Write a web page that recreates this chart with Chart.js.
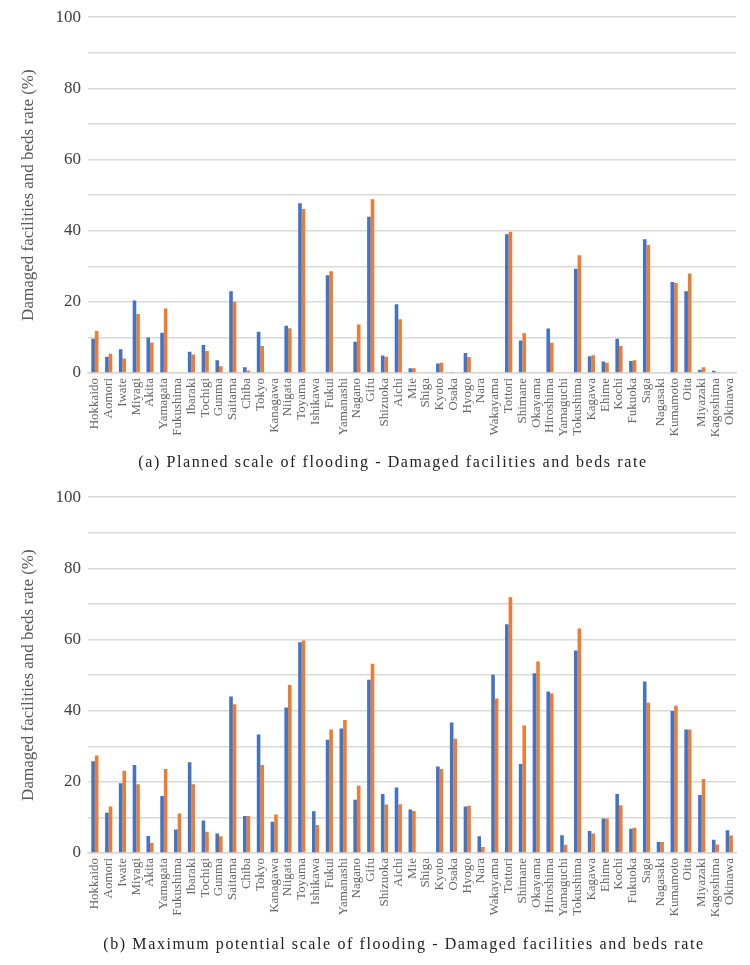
<!DOCTYPE html>
<html>
<head>
<meta charset="utf-8">
<script src="https://cdn.jsdelivr.net/npm/chart.js@4.4.1/dist/chart.umd.min.js"></script>
<style>
  body { margin: 0; background: #fff; }
  #wrap { position: relative; width: 750px; height: 965px; }
  .box { position: absolute; left: 0; width: 750px; height: 458px; }
  .cap {
    position: absolute; left: 0; width: 790px; text-align: center;
    font-family: "Liberation Serif", serif; font-size: 16px; letter-spacing: 1.6px; color: #222;
  }
</style>
</head>
<body>
<div id="wrap">
  <div class="box" style="top:0"><canvas id="chartA"></canvas></div>
  <div class="cap" style="top:453px; left:-2px">(a) Planned scale of flooding - Damaged facilities and beds rate</div>
  <div class="box" style="top:480px"><canvas id="chartB"></canvas></div>
  <div class="cap" style="top:935px; left:9px">(b) Maximum potential scale of flooding - Damaged facilities and beds rate</div>
</div>
<script>
'use strict';

let prefectures = ['Hokkaido', 'Aomori', 'Iwate', 'Miyagi', 'Akita', 'Yamagata', 'Fukushima', 'Ibaraki',
    'Tochigi', 'Gunma', 'Saitama', 'Chiba', 'Tokyo', 'Kanagawa', 'Niigata', 'Toyama', 'Ishikawa', 'Fukui',
    'Yamanashi', 'Nagano', 'Gifu', 'Shizuoka', 'Aichi', 'Mie', 'Shiga', 'Kyoto', 'Osaka', 'Hyogo', 'Nara',
    'Wakayama', 'Tottori', 'Shimane', 'Okayama', 'Hiroshima', 'Yamaguchi', 'Tokushima', 'Kagawa', 'Ehime',
    'Kochi', 'Fukuoka', 'Saga', 'Nagasaki', 'Kumamoto', 'Oita', 'Miyazaki', 'Kagoshima', 'Okinawa'];

// (a) planned scale
let facilitiesA = [9.6, 4.6, 6.7, 20.4, 10.0, 11.3, 0, 6.0, 7.9, 3.6, 23.0, 1.6, 11.6, 0, 13.3, 47.7, 0, 27.5,
    0, 8.8, 43.9, 4.9, 19.3, 1.3, 0, 2.7, 0.3, 5.6, 0, 0, 39.0, 9.1, 0, 12.5, 0, 29.3, 4.7, 3.2,
    9.6, 3.4, 37.6, 0, 25.6, 23.0, 0.9, 0.6, 0];
let bedsA = [11.8, 5.4, 4.1, 16.6, 8.6, 18.1, 0, 5.2, 6.2, 1.9, 20.0, 0.7, 7.6, 0, 12.6, 46.1, 0, 28.6,
    0, 13.6, 48.8, 4.6, 15.1, 1.3, 0, 2.9, 0, 4.5, 0, 0, 39.7, 11.2, 0, 8.5, 0, 33.1, 5.0, 2.9,
    7.6, 3.6, 36.0, 0, 25.3, 28.0, 1.6, 0.3, 0];

// (b) maximum potential scale
let facilitiesB = [25.8, 11.3, 19.6, 24.7, 4.8, 16.0, 6.6, 25.5, 9.1, 5.5, 44.0, 10.4, 33.3, 8.8, 40.9, 59.2,
    11.7, 31.8, 35.0, 15.0, 48.7, 16.6, 18.4, 12.2, 0, 24.3, 36.7, 13.1, 4.7, 50.1, 64.3, 25.0, 50.5,
    45.4, 5.0, 56.9, 6.2, 9.7, 16.6, 6.8, 48.2, 3.1, 39.9, 34.7, 16.3, 3.7, 6.4];
let bedsB = [27.4, 13.1, 23.1, 19.3, 2.8, 23.6, 11.1, 19.3, 6.0, 4.7, 41.8, 10.4, 24.7, 10.8, 47.2, 59.7,
    7.9, 34.7, 37.4, 18.9, 53.2, 13.6, 13.7, 11.8, 0, 23.6, 32.1, 13.3, 1.7, 43.4, 71.9, 35.8, 53.8,
    44.8, 2.3, 63.1, 5.5, 9.7, 13.4, 7.1, 42.2, 3.1, 41.4, 34.7, 20.8, 2.4, 4.9];

let yTicks = [0, 20, 40, 60, 80, 100];
let axisTitle = 'Damaged facilities and beds rate (%)';

function makeChart(id, blue, orange) {
    let ctx = document.getElementById(id).getContext('2d');
    return new Chart(ctx, {
        type: 'bar',
        data: {
            labels: prefectures,
            datasets: [{
                data: blue,
                backgroundColor: '#4472C4',
                categoryPercentage: 0.52,
                barPercentage: 1
            },
            {
                data: orange,
                backgroundColor: '#ED7D31',
                categoryPercentage: 0.52,
                barPercentage: 1
            }]
        },
        options: {
            responsive: true,
            maintainAspectRatio: false,
            animation: false,
            layout: { padding: { top: 15, right: 10, bottom: 0, left: 0 } },
            plugins: { legend: { display: false }, tooltip: { enabled: false } },
            scales: {
                x: {
                    grid: { display: false, drawTicks: false },
                    border: { display: true, color: '#d9d9d9', width: 1.5 },
                    ticks: {
                        autoSkip: false,
                        minRotation: 90,
                        maxRotation: 90,
                        padding: 5,
                        color: '#666666',
                        font: { family: 'Liberation Serif', size: 13 }
                    },
                    afterFit: function (scale) { scale.height = 85; }
                },
                y: {
                    min: 0,
                    max: 100,
                    grid: { color: '#d9d9d9', lineWidth: 1.5, drawTicks: false },
                    border: { display: false },
                    ticks: {
                        stepSize: 10,
                        padding: 7,
                        color: '#404040',
                        font: { family: 'Liberation Serif', size: 17 },
                        callback: function (v) { return yTicks.includes(v) ? v : ''; }
                    },
                    title: {
                        display: true,
                        text: axisTitle,
                        color: '#595959',
                        padding: { top: 18, bottom: 0 },
                        font: { family: 'Liberation Serif', size: 17 }
                    },
                    afterFit: function (scale) { scale.width = 88; }
                }
            }
        }
    });
}

makeChart('chartA', facilitiesA, bedsA);
makeChart('chartB', facilitiesB, bedsB);
</script>
</body>
</html>
